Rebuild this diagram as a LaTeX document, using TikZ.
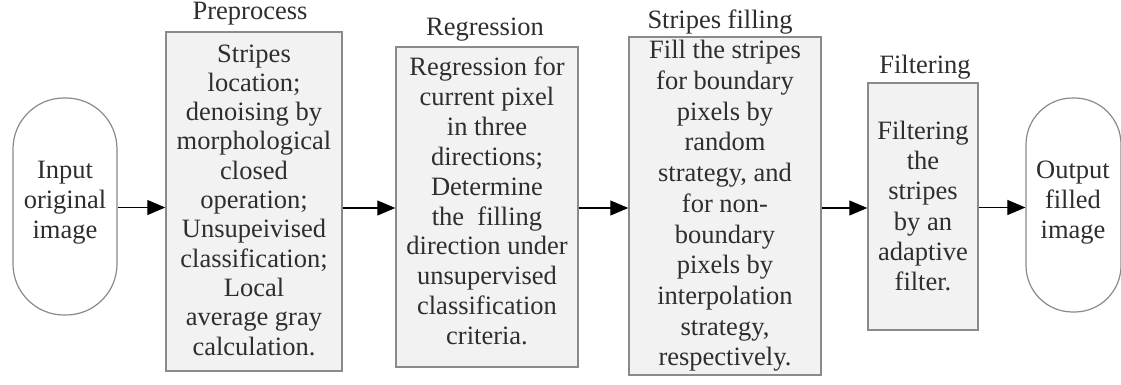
\documentclass[tikz,border=0pt]{standalone}
\usepackage{fontspec}
\setmainfont{Liberation Serif}
\usetikzlibrary{arrows.meta}
\definecolor{txt}{HTML}{2E2E2E}
\definecolor{edge}{HTML}{8A8A8A}
\definecolor{boxfill}{HTML}{F2F2F2}
\tikzset{
  procbox/.style={draw=edge,line width=1.4pt,fill=boxfill,inner sep=0pt},
  pill/.style={draw=edge,line width=1.2pt,fill=white,rectangle,inner sep=0pt},
  label/.style={text=txt,align=center,inner sep=0pt},
  title/.style={text=txt,font=\fontsize{26.5}{30}\selectfont,inner sep=0pt},
  arr/.style={line width=1.1pt,black,-{Triangle[length=18pt,width=15pt]}},
}
\begin{document}
\begin{tikzpicture}[x=1pt,y=-1pt]
\useasboundingbox (0,0) rectangle (1121,385);
% pills
\node[pill,rounded corners=51pt,minimum width=104pt,minimum height=217pt] (in) at (65,206.5) {};
\node[label,font=\fontsize{26.5}{30}\selectfont] (intext) at (65,203) {Input\\original\\image};
\node[pill,rounded corners=46.5pt,minimum width=95pt,minimum height=214pt] (out) at (1073.5,205) {};
\node[label,font=\fontsize{26.5}{30}\selectfont] (outtext) at (1073,203) {Output\\filled\\image};
% boxes
\node[procbox,minimum width=176pt,minimum height=339pt] (pre) at (254,201.5) {};
\node[label,font=\fontsize{26.5}{29.3}\selectfont] (pretext) at (254,200) {Stripes\\location;\\denoising by\\morphological\\closed\\operation;\\Unsupeivised\\classification;\\Local\\average gray\\calculation.};
\node[title] (pretitle) at (250,14) {Preprocess};

\node[procbox,minimum width=182pt,minimum height=320pt] (reg) at (487,207) {};
\node[label,font=\fontsize{26.5}{29.9}\selectfont] (regtext) at (487,201) {Regression for\\current pixel\\in three\\directions;\\Determine\\the\ \ filling\\direction under\\unsupervised\\classification\\criteria.};
\node[title] (regtitle) at (485,30) {Regression};

\node[procbox,minimum width=192pt,minimum height=338pt] (fill) at (725,206) {};
\node[label,font=\fontsize{26.5}{30.7}\selectfont] (filltext) at (725,206) {Fill the stripes\\for boundary\\pixels by\\random\\strategy, and\\for non-\\boundary\\pixels by\\interpolation\\strategy,\\respectively.};
\node[title] (filltitle) at (720,22) {Stripes filling};

\node[procbox,minimum width=110pt,minimum height=247pt] (flt) at (923,206.5) {};
\node[label,font=\fontsize{26.5}{30.2}\selectfont] (flttext) at (923,206) {Filtering\\the\\stripes\\by an\\adaptive\\filter.};
\node[title] (flttitle) at (925,67) {Filtering};
% arrows
\draw[arr] (in.east |- 0,207.5) -- (pre.west |- 0,207.5);
\draw[arr] (pre.east |- 0,208) -- (reg.west |- 0,208);
\draw[arr] (reg.east |- 0,208) -- (fill.west |- 0,208);
\draw[arr] (fill.east |- 0,208) -- (flt.west |- 0,208);
\draw[arr] (flt.east |- 0,207.5) -- (out.west |- 0,207.5);
\end{tikzpicture}
\end{document}
